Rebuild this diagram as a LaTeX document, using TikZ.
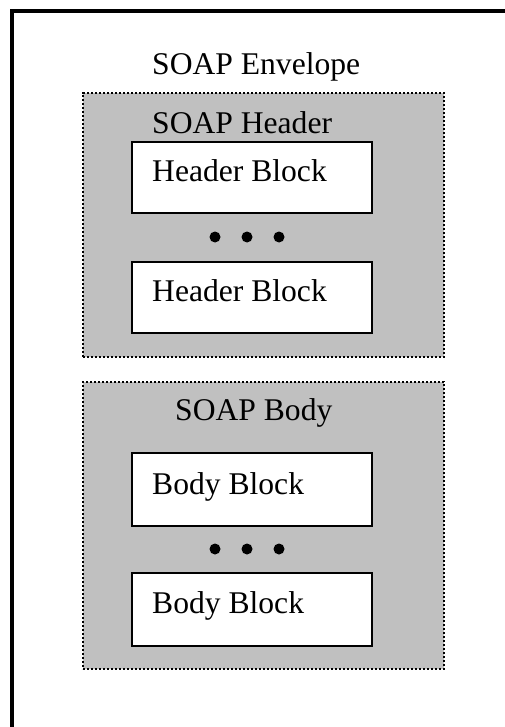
\documentclass[tikz,border=0pt]{standalone}
\usepackage{fontspec}
\setmainfont{Liberation Serif}
\usepackage{tikz}
\definecolor{partgray}{RGB}{192,192,192}

\begin{document}
\begin{tikzpicture}[x=1pt,y=1pt,
part/.style={draw,line width=2.2pt,dash pattern=on 2.2pt off 1.8pt,fill=partgray,inner sep=0pt,outer sep=0pt},
blockbox/.style={draw,line width=2pt,fill=white,minimum width=240pt,inner sep=0pt,outer sep=0pt},
lbl/.style={inner sep=0pt,anchor=base west,font=\fontsize{31.6}{38}\selectfont}
]
\useasboundingbox (0,0) rectangle (505,-727);

% The envelope
\draw[line width=4pt] (12,-727) coordinate (envbot) -- (12,-11) -- (505,-11) coordinate (envright);
\node[lbl] (envtitle) at (152,-75) {SOAP Envelope};

% The header
\node[part,minimum width=361pt,minimum height=264pt] (header) at (263.5,-225) {};
\node[lbl] (headertitle) at (152,-133.3) {SOAP Header};
\node[blockbox,minimum height=71pt] (hblock1) at (252,-177.5) {};
\node[lbl] at (152,-181.7) {Header Block};
\node[blockbox,minimum height=71pt] (hblock2) at (252,-297.5) {};
\node[lbl] at (152,-301.7) {Header Block};
\foreach \x in {215,247,279} \fill (\x,-237) circle (5.5);

% The body
\node[part,minimum width=361pt,minimum height=287pt] (body) at (263.5,-525.5) {};
\node[lbl] (bodytitle) at (175,-420.7) {SOAP Body};
\node[blockbox,minimum height=73pt] (bblock1) at (252,-489.5) {};
\node[lbl] at (152,-494) {Body Block};
\node[blockbox,minimum height=73pt] (bblock2) at (252,-609.5) {};
\node[lbl] at (152,-613.3) {Body Block};
\foreach \x in {215,247,279} \fill (\x,-549) circle (5.5);
\end{tikzpicture}
\end{document}
